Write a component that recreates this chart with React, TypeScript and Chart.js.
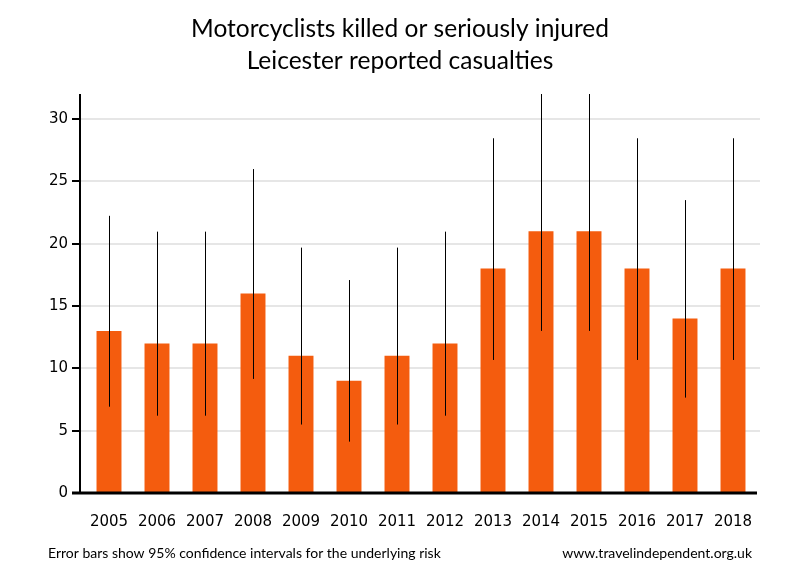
import React, { useEffect, useRef } from "react";
import { Chart, registerables } from "chart.js";

Chart.register(...registerables);

const years = ["2005","2006","2007","2008","2009","2010","2011","2012","2013","2014","2015","2016","2017","2018"];
const casualties = [13, 12, 12, 16, 11, 9, 11, 12, 18, 21, 21, 18, 14, 18];
const ciLow = [6.92, 6.2, 6.2, 9.15, 5.49, 4.12, 5.49, 6.2, 10.67, 13.0, 13.0, 10.67, 7.65, 10.67];
const ciHigh = [22.23, 20.96, 20.96, 25.98, 19.68, 17.08, 19.68, 20.96, 28.45, 32.1, 32.1, 28.45, 23.49, 28.45];
const yTicks = [0, 5, 10, 15, 20, 25, 30];
const titleLines = ["Motorcyclists killed or seriously injured", "Leicester reported casualties"];
const footLeft = "Error bars show 95% confidence intervals for the underlying risk";
const footRight = "www.travelindependent.org.uk";

const TICK_FONT = "'DejaVu Sans', sans-serif";
const TEXT_FONT = "Lato, 'Open Sans', sans-serif";

const decorPlugin = {
  id: "decor",
  beforeDatasetsDraw(chart: any) {
    const { ctx, chartArea, scales } = chart;
    const y = scales.y;
    const axisX = chartArea.left - 5;
    ctx.save();
    ctx.strokeStyle = "#e6e6e6";
    ctx.lineWidth = 2;
    yTicks.forEach((v) => {
      if (v === 0) return;
      const py = Math.round(y.getPixelForValue(v));
      ctx.beginPath();
      ctx.moveTo(axisX, py);
      ctx.lineTo(chartArea.right + 3, py);
      ctx.stroke();
    });
    ctx.restore();
  },
  afterDatasetsDraw(chart: any) {
    const { ctx, chartArea, scales } = chart;
    const x = scales.x;
    const y = scales.y;
    const axisX = chartArea.left - 5;
    ctx.save();
    ctx.beginPath();
    ctx.rect(chartArea.left - 10, chartArea.top, chartArea.right - chartArea.left + 20, chartArea.bottom - chartArea.top);
    ctx.clip();
    ctx.strokeStyle = "#000";
    ctx.lineWidth = 1;
    years.forEach((_, i) => {
      const px = Math.round(x.getPixelForValue(i)) + 0.5;
      ctx.beginPath();
      ctx.moveTo(px, y.getPixelForValue(ciLow[i]));
      ctx.lineTo(px, y.getPixelForValue(ciHigh[i]));
      ctx.stroke();
    });
    ctx.restore();
    ctx.save();
    ctx.strokeStyle = "#000";
    ctx.lineWidth = 2;
    ctx.beginPath();
    ctx.moveTo(axisX, chartArea.top);
    ctx.lineTo(axisX, chartArea.bottom + 1);
    ctx.stroke();
    yTicks.forEach((v) => {
      const py = Math.round(y.getPixelForValue(v));
      ctx.beginPath();
      ctx.moveTo(axisX - 8, py);
      ctx.lineTo(axisX, py);
      ctx.stroke();
    });
    ctx.lineWidth = 3;
    ctx.beginPath();
    ctx.moveTo(axisX - 8, chartArea.bottom);
    ctx.lineTo(chartArea.right, chartArea.bottom);
    ctx.stroke();
    // title
    ctx.fillStyle = "#000";
    ctx.textAlign = "center";
    ctx.textBaseline = "middle";
    ctx.font = `24.5px ${TEXT_FONT}`;
    ctx.fillText(titleLines[0], 400, 29);
    ctx.fillText(titleLines[1], 400, 61);
    // footer
    ctx.font = `14px ${TEXT_FONT}`;
    ctx.textAlign = "left";
    ctx.fillText(footLeft, 48, 553);
    ctx.textAlign = "right";
    ctx.fillText(footRight, 752, 553);
    ctx.restore();
  },
};

export default function App() {
  const ref = useRef<HTMLCanvasElement | null>(null);
  useEffect(() => {
    document.body.style.margin = "0";
    const chart = new Chart(ref.current as HTMLCanvasElement, {
      type: "bar",
      data: {
        labels: years,
        datasets: [
          {
            data: casualties,
            backgroundColor: "#f45c0e",
            borderWidth: 0,
            categoryPercentage: 1,
            barPercentage: 0.52,
          },
        ],
      },
      options: {
        animation: false,
        responsive: false,
        maintainAspectRatio: false,
        layout: { padding: { left: 0, right: 43, top: 94, bottom: 0 } },
        plugins: {
          legend: { display: false },
          tooltip: { enabled: false },
          title: { display: false },
        },
        scales: {
          x: {
            grid: { display: false, drawTicks: false },
            border: { display: false },
            ticks: { color: "#000", font: { family: TICK_FONT, size: 15 }, padding: 20, maxRotation: 0 },
            afterFit: (s: any) => { s.height = 87; },
          },
          y: {
            min: 0,
            max: 32,
            grid: { display: false, drawTicks: false },
            border: { display: false },
            ticks: { stepSize: 5, includeBounds: false, color: "#000", font: { family: TICK_FONT, size: 15 }, padding: 17 },
            afterFit: (s: any) => { s.width = 85; },
          },
        },
      },
      plugins: [decorPlugin],
    });
    return () => chart.destroy();
  }, []);
  return (
    <div style={{ width: 800, height: 580 }}>
      <canvas ref={ref} width={800} height={580} style={{ display: "block" }} />
    </div>
  );
}
